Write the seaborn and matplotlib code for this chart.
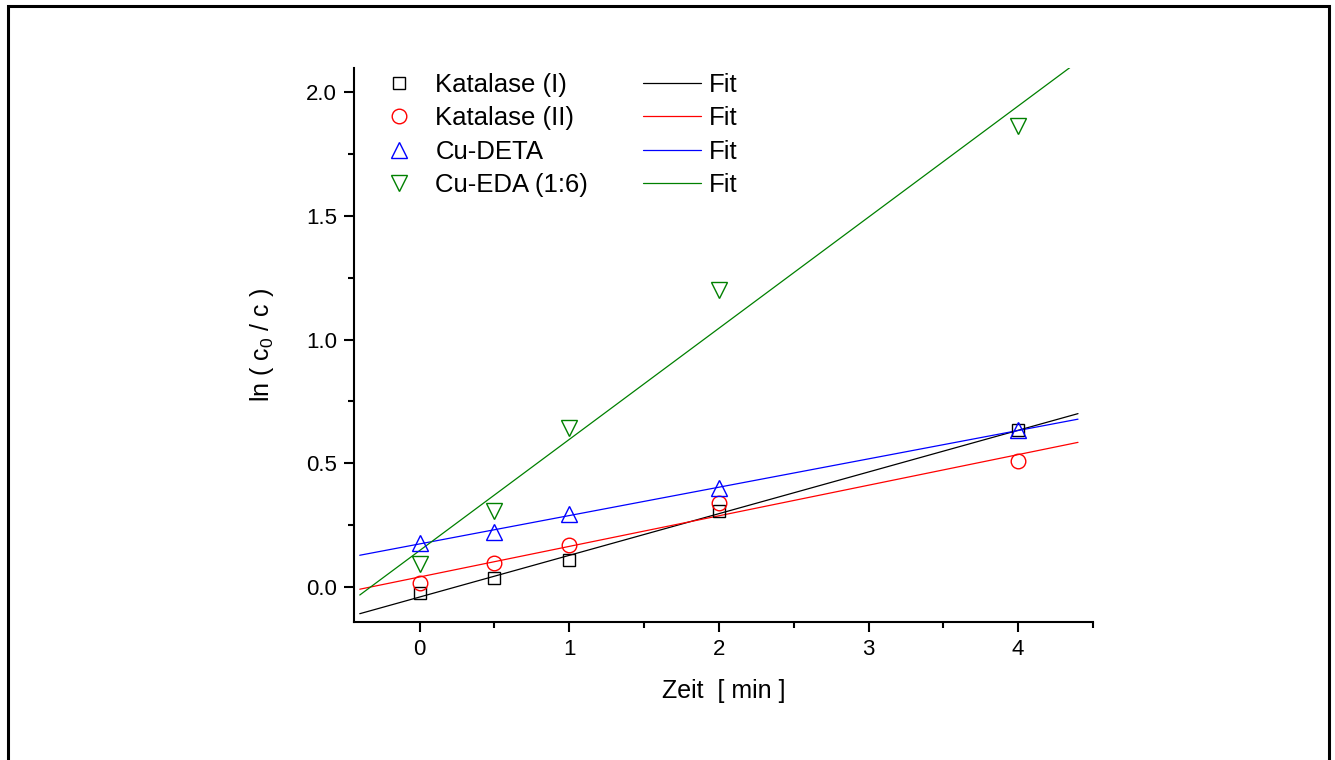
import numpy as np
import pandas as pd
import matplotlib
matplotlib.use("Agg")
import matplotlib.pyplot as plt
from matplotlib.patches import Rectangle
import seaborn as sns

# ---- data ----
zeit = [0, 0.5, 1, 2, 4]
katalase_1 = [-0.024, 0.036, 0.109, 0.307, 0.634]
katalase_2 = [0.016, 0.097, 0.170, 0.339, 0.509]
cu_deta = [0.180, 0.222, 0.295, 0.400, 0.634]
cu_eda = [0.093, 0.307, 0.642, 1.200, 1.863]
series_names = ["Katalase (I)", "Katalase (II)", "Cu-DETA", "Cu-EDA (1:6)"]
fit_x = [-0.4, 4.4]
x_ticks = [0, 1, 2, 3, 4]
y_ticks = [0.0, 0.5, 1.0, 1.5, 2.0]

sns.set_theme(style="ticks")
plt.rcParams["font.family"] = ["Liberation Sans", "DejaVu Sans"]
plt.rcParams["mathtext.fontset"] = "custom"
plt.rcParams["mathtext.rm"] = "Liberation Sans"
plt.rcParams["mathtext.it"] = "Liberation Sans"
plt.rcParams["text.color"] = "black"
plt.rcParams["axes.labelcolor"] = "black"

fig = plt.figure(figsize=(13.35, 7.6), dpi=100)
ax = fig.add_axes([0.265, 0.1816, 0.5537, 0.7289])

colors = ["black", "#FF0000", "#0000FF", "#008000"]
markers = ["s", "o", "^", "v"]
msizes = [9, 10.5, 11, 11]
values = [katalase_1, katalase_2, cu_deta, cu_eda]

for name, vals, c, m, ms in zip(series_names, values, colors, markers, msizes):
    df = pd.DataFrame({"x": zeit, "y": vals})
    sns.lineplot(data=df, x="x", y="y", ax=ax, linestyle="", marker=m,
                 markersize=ms, markerfacecolor="none", markeredgecolor=c,
                 markeredgewidth=1.0, color=c, label=name, zorder=3)

for name, vals, c in zip(series_names, values, colors):
    slope, intercept = np.polyfit(zeit, vals, 1)
    fx = np.array(fit_x)
    df = pd.DataFrame({"x": fx, "y": intercept + slope * fx})
    sns.lineplot(data=df, x="x", y="y", ax=ax, color=c, linewidth=0.9,
                 label="Fit", zorder=2)

ax.set_xlim(-0.44, 4.49)
ax.set_ylim(-0.141, 2.097)
ax.set_xticks(x_ticks)
ax.set_yticks(y_ticks)
ax.set_xticks([0.5, 1.5, 2.5, 3.5, 4.5], minor=True)
ax.set_yticks([0.25, 0.75, 1.25, 1.75], minor=True)
ax.set_xticklabels([str(t) for t in x_ticks])
ax.set_yticklabels([f"{t:.1f}" for t in y_ticks])
ax.tick_params(axis="both", which="major", direction="out", length=7, width=1.5,
               labelsize=16, colors="black", pad=5)
ax.tick_params(axis="both", which="minor", direction="out", length=4, width=1.5,
               colors="black")
for s in ["top", "right"]:
    ax.spines[s].set_visible(False)
for s in ["left", "bottom"]:
    ax.spines[s].set_linewidth(1.5)
    ax.spines[s].set_color("black")

ax.set_xlabel("Zeit  [ min ]", fontsize=18, labelpad=14)
ax.set_ylabel("ln ( c$_0$ / c )", fontsize=18, labelpad=22)

handles, labels = ax.get_legend_handles_labels()
ax.legend(handles, labels, ncol=2, loc="upper left", bbox_to_anchor=(0.004, 1.015),
          frameon=False, fontsize=18.5, handlelength=2.26, handletextpad=0.3,
          columnspacing=2.14, labelspacing=0.37, borderpad=0.0)

fig.patches.append(Rectangle((8 / 1335, -0.05), (1329 - 8) / 1335, 1.05 - 6 / 760,
                             transform=fig.transFigure, fill=False,
                             edgecolor="black", linewidth=2.2, clip_on=False))

fig.savefig("out.png", dpi=100)
